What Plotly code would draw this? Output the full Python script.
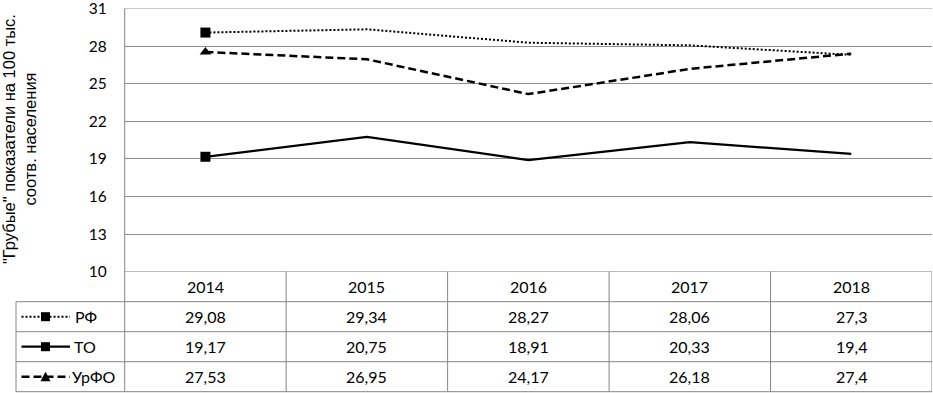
import plotly.graph_objects as go

years = ["2014", "2015", "2016", "2017", "2018"]
rf = [29.08, 29.34, 28.27, 28.06, 27.3]
to = [19.17, 20.75, 18.91, 20.33, 19.4]
urfo = [27.53, 26.95, 24.17, 26.18, 27.4]
series_names = ["РФ", "ТО", "УрФО"]
y_ticks = [10, 13, 16, 19, 22, 25, 28, 31]
y_title = '"Грубые" показатели на 100 тыс.<br>соотв. населения'

W, H = 933, 393
def px(x):
    return x / W
def py(y):
    return 1 - y / H

X0, X1 = 124.7, 932.0
Y0, Y1 = 8.5, 271.7
xs = list(range(len(years)))

DOT = "2px,2px"
DASH = "8px,4px"
fig = go.Figure()
styles = [
    dict(dash=DOT, width=2.0, symbol="square", msize=10),
    dict(dash="solid", width=2.25, symbol="square", msize=10),
    dict(dash=DASH, width=2.5, symbol="triangle-up", msize=10),
]
for name, vals, st in zip(series_names, [rf, to, urfo], styles):
    fig.add_trace(go.Scatter(
        x=xs, y=vals, name=name, mode="lines",
        line=dict(color="black", dash=st["dash"], width=st["width"]),
        showlegend=False, cliponaxis=False, hoverinfo="skip",
    ))
    fig.add_trace(go.Scatter(
        x=xs[:1], y=vals[:1], name=name, mode="markers",
        marker=dict(symbol=st["symbol"], color="#000000", size=st["msize"],
                    opacity=1, line=dict(width=0)),
        showlegend=False, cliponaxis=False,
    ))

GRID = "#8f8f8f"
TBL = "#858585"
shapes = []
for yv in [y_ticks[0], y_ticks[-1]]:
    shapes.append(dict(type="line", xref="paper", yref="y", x0=px(X0), x1=px(X1),
                       y0=yv, y1=yv, line=dict(color=GRID, width=1)))
shapes.append(dict(type="line", xref="paper", yref="paper", x0=px(X0), x1=px(X0),
                   y0=py(Y0), y1=py(391.7), line=dict(color=TBL, width=1)))
for i in range(1, len(years) + 1):
    shapes.append(dict(type="line", xref="x", yref="paper", x0=i - 0.5, x1=i - 0.5,
                       y0=py(Y1), y1=py(391.7), line=dict(color=TBL, width=1)))
row_lines = [301.7, 331.7, 361.7, 391.7]
for yl in row_lines:
    shapes.append(dict(type="line", xref="paper", yref="paper", x0=px(16), x1=px(X1),
                       y0=py(yl), y1=py(yl), line=dict(color=TBL, width=1)))
shapes.append(dict(type="line", xref="paper", yref="paper", x0=px(16), x1=px(16),
                   y0=py(301.7), y1=py(391.7), line=dict(color=TBL, width=1)))

row_centers = [316.7, 346.7, 376.7]
dashes = [DOT, "solid", DASH]
widths = [2.0, 2.25, 2.5]
for k, (yc, d, w) in enumerate(zip(row_centers, dashes, widths)):
    shapes.append(dict(type="line", xref="paper", yref="paper", x0=px(21.5), x1=px(70),
                       y0=py(yc), y1=py(yc), line=dict(color="black", dash=d, width=w)))
    if k < 2:
        shapes.append(dict(type="rect", xref="paper", yref="paper", x0=px(41), x1=px(50),
                           y0=py(yc - 4.5), y1=py(yc + 4.5), fillcolor="black",
                           line=dict(width=0)))
    else:
        path = "M {} {} L {} {} L {} {} Z".format(px(40.5), py(yc + 4.5), px(50.5), py(yc + 4.5),
                                                   px(45.5), py(yc - 5))
        shapes.append(dict(type="path", xref="paper", yref="paper", path=path,
                           fillcolor="black", line=dict(width=0)))

annotations = []
FONT_T = dict(family="Lato, Open Sans, sans-serif", size=16, color="black")
header_c = (Y1 + 301.7) / 2
for i, yr in enumerate(years):
    annotations.append(dict(x=i, y=py(header_c), xref="x", yref="paper", text=yr,
                            showarrow=False, font=FONT_T, xanchor="center", yanchor="middle"))
for vals, yc in zip([rf, to, urfo], row_centers):
    for i, v in enumerate(vals):
        s = ("%g" % v).replace(".", ",")
        annotations.append(dict(x=i, y=py(yc), xref="x", yref="paper", text=s,
                                showarrow=False, font=FONT_T, xanchor="center", yanchor="middle"))
legend_text_x = [73, 72, 70]
for name, yc, lx in zip(series_names, row_centers, legend_text_x):
    annotations.append(dict(x=px(lx), y=py(yc), xref="paper", yref="paper", text=name,
                            showarrow=False, font=FONT_T, xanchor="left", yanchor="middle"))
annotations.append(dict(x=px(19), y=py(139), xref="paper", yref="paper", text=y_title,
                        textangle=-90, showarrow=False, xanchor="center", yanchor="middle",
                        font=dict(family="Liberation Sans, Arial, sans-serif", size=16.5, color="black")))

fig.update_layout(
    width=W, height=H,
    margin=dict(l=0, r=0, t=0, b=0),
    paper_bgcolor="white", plot_bgcolor="white",
    xaxis=dict(domain=[px(X0), px(X1)], range=[-0.5, len(years) - 0.5],
               showgrid=False, showticklabels=False, zeroline=False, showline=False,
               ticks=""),
    yaxis=dict(domain=[py(Y1), py(Y0)], range=[y_ticks[0], y_ticks[-1]],
               tickvals=y_ticks, showgrid=True, gridcolor=GRID, gridwidth=1,
               zeroline=False, showline=False, ticks="", ticklabelstandoff=17,
               ticklabeloverflow="allow",
               tickfont=dict(family="Lato, Open Sans, sans-serif", size=15.5, color="black"),
               automargin=False),
    shapes=shapes, annotations=annotations,
)

fig.write_html("out.html", config={"displayModeBar": False},
               post_script="document.body.style.margin='0';document.body.style.overflow='hidden';")
